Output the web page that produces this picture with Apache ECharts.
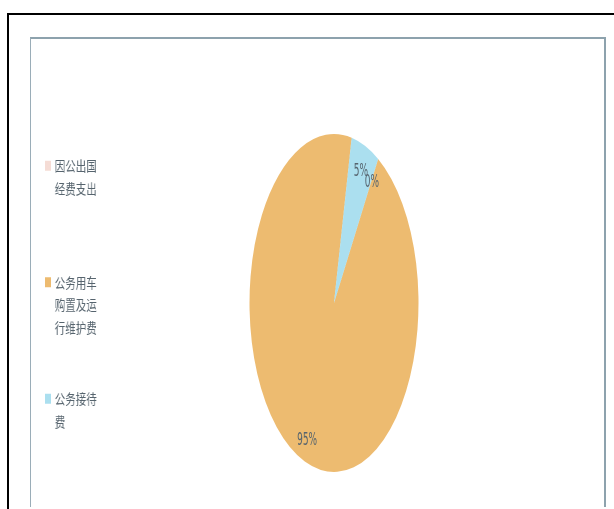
<!DOCTYPE html>
<html>
<head>
<meta charset="utf-8">
<script src="https://cdn.jsdelivr.net/npm/echarts@6/dist/echarts.min.js"></script>
<style>
  html, body { margin: 0; padding: 0; background: #fff; width: 614px; height: 509px; overflow: hidden; position: relative; }
  #outer { position: absolute; left: 7px; top: 13px; width: 700px; height: 600px; border-left: 2px solid #000; border-top: 2px solid #000; }
  #inner { position: absolute; left: 30px; top: 37px; width: 573px; height: 468px; border-top: 2px solid #8da2ad; border-left: 1px solid #9aadb8; border-right: 2px solid #8da2ad; }
  #pie { position: absolute; left: 163.5px; top: 0; width: 680px; height: 509px; transform-origin: 0 0; transform: scaleX(0.5); }
  #leg { position: absolute; left: 0; top: 0; width: 200px; height: 509px; transform-origin: 0 0; transform: scaleX(0.75); }
</style>
</head>
<body>
<div id="outer"></div>
<div id="inner"></div>
<div id="pie"></div>
<div id="leg"></div>
<script>
// Data
const categories = ['因公出国经费支出', '公务用车购置及运行维护费', '公务接待费'];
const values = [0, 94.6, 5.4];
const colors = ['#f5dcd5', '#edbb70', '#abdfef'];

const textColor = '#56646e';
const pieData = categories.map((c, i) => ({ name: c, value: values[i], itemStyle: { color: colors[i] } }));

// Pie (drawn horizontally compressed)
const pieChart = echarts.init(document.getElementById('pie'), null, { renderer: 'canvas' });
pieChart.setOption({
  animation: false,
  series: [
    {
      type: 'pie',
      center: [340, 303],
      radius: [0, 169],
      startAngle: 58.5,
      clockwise: true,
      silent: true,
      label: { show: false },
      labelLine: { show: false },
      itemStyle: { borderWidth: 0 },
      emphasis: { disabled: true },
      data: pieData
    },
    {
      type: 'pie',
      center: [340, 303],
      radius: [115, 169],
      startAngle: 58.5,
      clockwise: true,
      silent: true,
      percentPrecision: 0,
      avoidLabelOverlap: false,
      minShowLabelAngle: -1,
      stillShowZeroSum: true,
      itemStyle: { color: 'rgba(0,0,0,0)', borderWidth: 0 },
      emphasis: { disabled: true },
      labelLayout: { hideOverlap: false },
      label: {
        show: true,
        position: 'inside',
        formatter: '{d}%',
        color: textColor,
        fontFamily: 'DejaVu Sans',
        fontSize: 18,
        offset: [0, 3]
      },
      labelLine: { show: false },
      data: categories.map((c, i) => ({ name: c, value: values[i] }))
    }
  ]
});

// Legend (separate instance, different compression)
const lineH = 22.5;
const perLine = 4;
const legChart = echarts.init(document.getElementById('leg'), null, { renderer: 'canvas' });
legChart.setOption({
  animation: false,
  legend: {
    orient: 'vertical',
    left: 60,
    top: 132,
    padding: 0,
    itemWidth: 8,
    itemHeight: 10,
    itemGap: 26.5,
    selectedMode: false,
    icon: 'rect',
    formatter: function (name) {
      const chunks = [];
      for (let i = 0; i < name.length; i += perLine) chunks.push(name.slice(i, i + perLine));
      return '\n'.repeat(chunks.length - 1) + chunks.join('\n');
    },
    textStyle: {
      color: textColor,
      fontSize: 14,
      lineHeight: lineH,
      fontFamily: 'Noto Sans CJK SC'
    },
    data: categories
  },
  series: [{
    type: 'pie',
    center: [-100, -100],
    radius: [0, 0],
    silent: true,
    label: { show: false },
    labelLine: { show: false },
    data: pieData
  }]
});
</script>
</body>
</html>
